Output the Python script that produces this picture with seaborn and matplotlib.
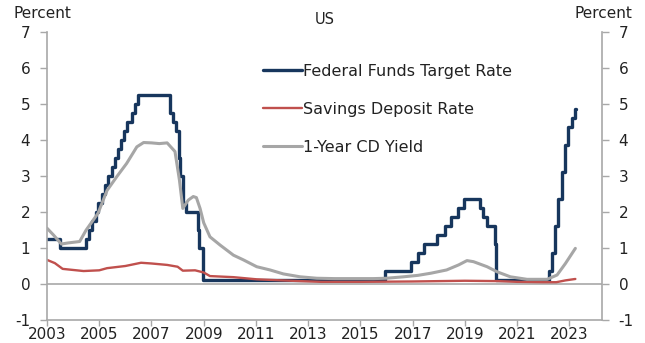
# US policy rate vs deposit rates, 2003-2023

import matplotlib
matplotlib.use('Agg')
import numpy as np
import pandas as pd
import matplotlib.pyplot as plt
import seaborn as sns

sns.set_style('white')
plt.rcParams['font.family'] = ['DejaVu Sans']
plt.rcParams['axes.unicode_minus'] = False

#----------------------------------------------------------------------------------------------------------------
# Data (decimal years)
#----------------------------------------------------------------------------------------------------------------
# Federal funds target rate, value from each change date onwards
fed_years = [2003.00, 2003.48, 2004.50, 2004.61, 2004.72, 2004.86, 2004.95, 2005.09, 2005.22, 2005.34,
             2005.49, 2005.61, 2005.72, 2005.83, 2005.95, 2006.08, 2006.24, 2006.36, 2006.49, 2007.71,
             2007.83, 2007.94, 2008.06, 2008.08, 2008.21, 2008.33, 2008.77, 2008.83, 2008.96, 2015.96,
             2016.95, 2017.20, 2017.45, 2017.95, 2018.22, 2018.45, 2018.73, 2018.97, 2019.58, 2019.71,
             2019.83, 2020.17, 2020.20, 2022.21, 2022.34, 2022.45, 2022.57, 2022.72, 2022.84, 2022.95,
             2023.09, 2023.22, 2023.25]
fed_rate = [1.25, 1.00, 1.25, 1.50, 1.75, 2.00, 2.25, 2.50, 2.75, 3.00,
            3.25, 3.50, 3.75, 4.00, 4.25, 4.50, 4.75, 5.00, 5.25, 4.75,
            4.50, 4.25, 3.50, 3.00, 2.25, 2.00, 1.50, 1.00, 0.125, 0.375,
            0.625, 0.875, 1.125, 1.375, 1.625, 1.875, 2.125, 2.375, 2.125, 1.875,
            1.625, 1.125, 0.125, 0.375, 0.875, 1.625, 2.375, 3.125, 3.875, 4.375,
            4.625, 4.875, 4.875]

# Savings deposit rate
sav_years = [2003.0, 2003.3, 2003.6, 2004.0, 2004.4, 2005.0, 2005.3, 2006.0, 2006.6, 2007.0,
             2007.6, 2008.0, 2008.2, 2008.67, 2009.0, 2009.24, 2010.14, 2011.03, 2012.0, 2012.7,
             2013.5, 2015.0, 2017.0, 2019.0, 2020.3, 2021.0, 2022.0, 2022.5, 2022.85, 2023.23]
sav_rate = [0.67, 0.58, 0.42, 0.39, 0.36, 0.38, 0.44, 0.50, 0.59, 0.57,
            0.53, 0.48, 0.37, 0.38, 0.32, 0.22, 0.19, 0.13, 0.10, 0.08,
            0.06, 0.06, 0.07, 0.09, 0.08, 0.06, 0.05, 0.05, 0.10, 0.14]

# 1-year CD yield
cd_years = [2003.0, 2003.25, 2003.55, 2003.8, 2004.25, 2004.5, 2004.95, 2005.3, 2005.67, 2006.05,
            2006.44, 2006.7, 2007.0, 2007.3, 2007.6, 2007.9, 2008.07, 2008.2, 2008.41, 2008.6,
            2008.72, 2008.86, 2009.0, 2009.24, 2009.63, 2010.14, 2010.52, 2011.03, 2011.54, 2012.05,
            2012.69, 2013.33, 2014.0, 2015.0, 2015.5, 2016.0, 2016.65, 2017.2, 2017.7, 2018.3,
            2018.76, 2019.08, 2019.33, 2019.85, 2020.23, 2020.74, 2021.38, 2022.15, 2022.53, 2022.85,
            2023.23]
cd_yield = [1.55, 1.36, 1.11, 1.14, 1.18, 1.50, 1.96, 2.60, 2.98, 3.35,
            3.81, 3.93, 3.92, 3.90, 3.92, 3.68, 2.89, 2.10, 2.33, 2.43,
            2.40, 2.10, 1.70, 1.31, 1.08, 0.80, 0.67, 0.48, 0.39, 0.28,
            0.20, 0.16, 0.15, 0.15, 0.15, 0.16, 0.20, 0.24, 0.30, 0.39,
            0.53, 0.65, 0.62, 0.48, 0.34, 0.20, 0.13, 0.13, 0.25, 0.57,
            0.99]

x_ticks = list(range(2003, 2024, 2))
y_ticks = list(range(-1, 8))

NAVY = '#17365D'
RED = '#C0504D'
GREY = '#A6A6A6'
AXIS_GREY = '#A8A8A8'
TEXT = '#222222'

fed = pd.DataFrame({'year': fed_years, 'rate': fed_rate})
sav = pd.DataFrame({'year': sav_years, 'rate': sav_rate})
cd = pd.DataFrame({'year': cd_years, 'rate': cd_yield})

#----------------------------------------------------------------------------------------------------------------
# Plot
#----------------------------------------------------------------------------------------------------------------
fig = plt.figure(figsize=(6.45, 3.43), dpi=100)
ax = fig.add_axes([47/645, 23/343, 555/645, 288/343])

ax.axhline(0, color=AXIS_GREY, lw=1.2, zorder=1)

sns.lineplot(data=fed, x='year', y='rate', ax=ax, color=NAVY, lw=2.4,
             drawstyle='steps-post', label='Federal Funds Target Rate')
sns.lineplot(data=sav, x='year', y='rate', ax=ax, color=RED, lw=1.7,
             label='Savings Deposit Rate')
sns.lineplot(data=cd, x='year', y='rate', ax=ax, color=GREY, lw=2.2,
             label='1-Year CD Yield')

ax.set_xlim(2003, 2024.25)
ax.set_ylim(-1, 7)
ax.set_xticks(x_ticks)
ax.set_yticks(y_ticks)
ax.set_xlabel('')
ax.set_ylabel('')

ax.spines['top'].set_visible(False)
for s in ['left', 'right', 'bottom']:
    ax.spines[s].set_color(AXIS_GREY)
    ax.spines[s].set_linewidth(1.2)

ax.tick_params(axis='both', direction='out', length=5, width=1, color=AXIS_GREY,
               labelsize=11, labelcolor=TEXT)
ax.tick_params(axis='y', right=True, labelright=True, left=True, pad=7)
ax.tick_params(axis='x', bottom=True, length=4, pad=1)

ax.legend(loc='upper left', bbox_to_anchor=(0.39, 0.89), frameon=False, fontsize=11.5,
          handlelength=2.4, handletextpad=0.1, labelspacing=1.45, borderpad=0, borderaxespad=0)
for t in ax.get_legend().get_texts():
    t.set_color(TEXT)

ax.set_title('US', fontsize=10.5, color=TEXT, pad=6)
fig.text(42/645, 1 - 14/343, 'Percent', ha='center', va='center', fontsize=11, color=TEXT)
fig.text(603/645, 1 - 14/343, 'Percent', ha='center', va='center', fontsize=11, color=TEXT)

plt.savefig('out.png', dpi=100)
plt.close()
